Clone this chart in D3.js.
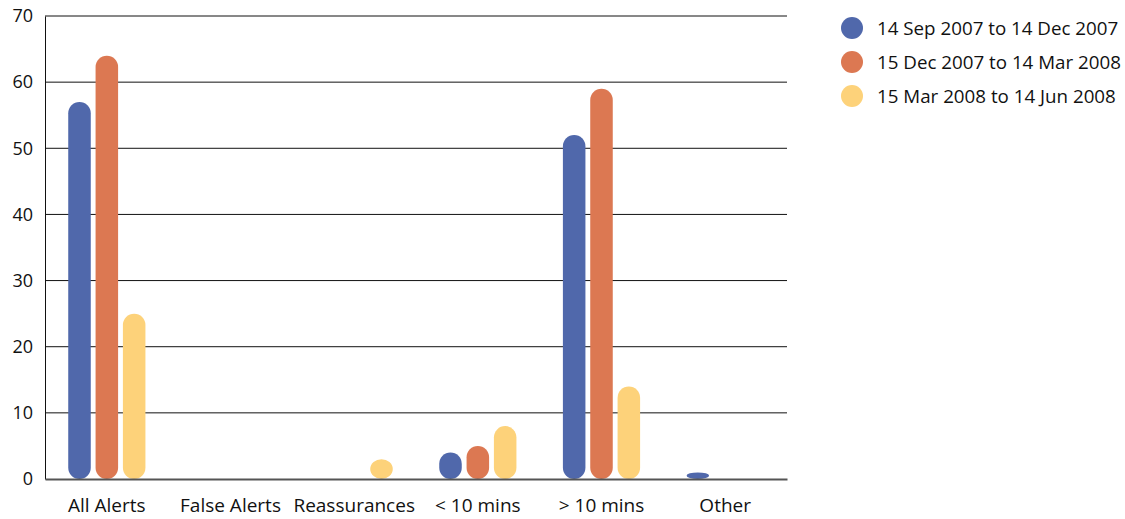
<!DOCTYPE html>
<html><head><meta charset="utf-8">
<script src="https://cdn.jsdelivr.net/npm/d3@7"></script>
<style>body{margin:0;background:#fff}svg{display:block}text{font-family:"Open Sans",sans-serif;fill:#111}</style>
</head><body><svg id="c" width="1125" height="519"></svg>
<script>
const categories = ["All Alerts","False Alerts","Reassurances","< 10 mins","> 10 mins","Other"];
const seriesNames = ["14 Sep 2007 to 14 Dec 2007","15 Dec 2007 to 14 Mar 2008","15 Mar 2008 to 14 Jun 2008"];
const seriesA = [57,0,0,4,52,1];
const seriesB = [64,0,0,5,59,0];
const seriesC = [25,0,3,8,14,0];
const colors = ["#5068AB","#DC7852","#FDD27A"];
const yTicks = [0,10,20,30,40,50,60,70];

const svg = d3.select("#c");
const L=45,R=787,T=16,B=479;
const x = d3.scaleBand().domain(categories).range([L,R]);
const y = d3.scaleLinear().domain([0,70]).range([B,T]);
const inner = d3.scaleBand().domain([0,1,2]).range([-38.6,38.6]).paddingInner(0.176);

// gridlines
svg.append("g").selectAll("line").data(yTicks.filter(d=>d>0)).join("line")
  .attr("x1",L).attr("x2",R).attr("y1",d=>y(d)).attr("y2",d=>y(d))
  .attr("stroke","#111").attr("stroke-width",1);
// y axis
const ya = svg.append("g").attr("transform",`translate(${L},0)`)
  .call(d3.axisLeft(y).tickValues(yTicks).tickSize(0).tickPadding(12));
ya.select(".domain").attr("stroke","#111");
ya.selectAll("text").style("font-size","18px").attr("fill","#111").attr("font-family","'Open Sans',sans-serif");
// bars
const series = [seriesA,seriesB,seriesC];
series.forEach((vals,si)=>{
  const bw = inner.bandwidth();
  svg.append("g").selectAll("rect").data(categories.map((c,i)=>({c,v:vals[i]})).filter(d=>d.v>0)).join("rect")
    .attr("x",d=>x(d.c)+x.bandwidth()/2+inner(si))
    .attr("width",bw)
    .attr("y",d=>y(d.v))
    .attr("height",d=>B-y(d.v))
    .attr("rx",bw/2).attr("ry",bw/2)
    .attr("fill",colors[si]);
});
// x axis
const xa = svg.append("g").attr("transform",`translate(0,${B})`)
  .call(d3.axisBottom(x).tickSize(0).tickPadding(20));
xa.select(".domain").attr("stroke","#555").attr("stroke-width",2);
xa.selectAll("text").style("font-size","19px").attr("fill","#111").attr("font-family","'Open Sans',sans-serif");
// legend
const lg = svg.append("g").selectAll("g").data(seriesNames).join("g")
  .attr("transform",(d,i)=>`translate(852,${28+i*34})`);
lg.append("circle").attr("r",11).attr("fill",(d,i)=>colors[i]);
lg.append("text").attr("x",25).attr("dy","0.35em").style("font-size","18.75px").text(d=>d);
</script></body></html>
